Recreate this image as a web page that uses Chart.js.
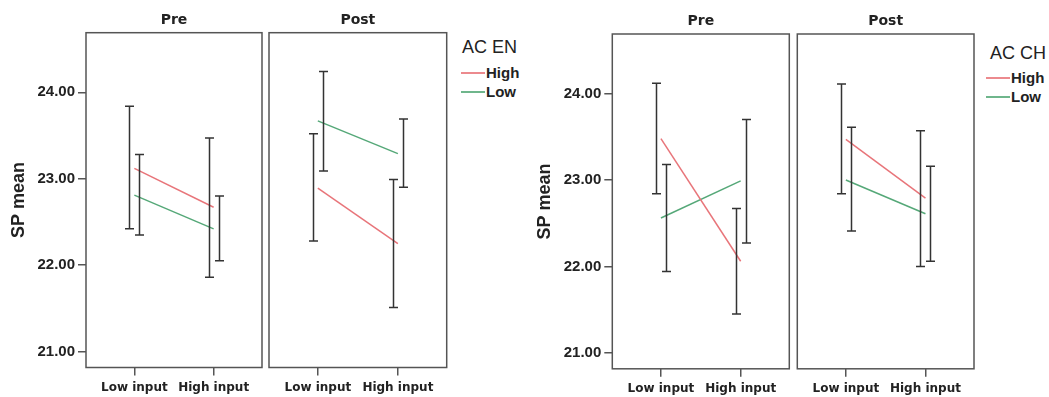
<!DOCTYPE html>
<html>
<head>
<meta charset="utf-8">
<script src="https://cdn.jsdelivr.net/npm/chart.js@4.4.1/dist/chart.umd.min.js"></script>
<style>
  html, body { margin: 0; padding: 0; background: #fff; }
  #wrap { position: relative; width: 1049px; height: 397px; overflow: hidden; }
  #wrap canvas { position: absolute; top: 0; }
  .lg { position: absolute; font-family: "Liberation Sans", Arial, sans-serif; color: #222; white-space: nowrap; }
  .lg-title { font-size: 18px; line-height: 20px; }
  .lg-item { font-size: 15px; line-height: 18px; font-weight: bold; }
  .lg-line { position: absolute; height: 2px; width: 24px; }
</style>
</head>
<body>
<div id="wrap">
  <canvas id="enPre" width="266" height="397" style="left:0px"></canvas>
  <canvas id="enPost" width="185" height="397" style="left:265px"></canvas>
  <canvas id="chPre" width="272" height="397" style="left:520px"></canvas>
  <canvas id="chPost" width="183" height="397" style="left:794px"></canvas>

  <div class="lg lg-title" style="left:462px; top:37px">AC EN</div>
  <div class="lg-line" style="left:461px; top:72px; background:#ec8a8e"></div>
  <div class="lg lg-item" style="left:486px; top:64px">High</div>
  <div class="lg-line" style="left:461px; top:91px; background:#6fb68c"></div>
  <div class="lg lg-item" style="left:486px; top:83px">Low</div>

  <div class="lg lg-title" style="left:990px; top:43px">AC CH</div>
  <div class="lg-line" style="left:986px; top:77px; background:#ec8a8e"></div>
  <div class="lg lg-item" style="left:1011px; top:69px">High</div>
  <div class="lg-line" style="left:986px; top:96px; background:#6fb68c"></div>
  <div class="lg lg-item" style="left:1011px; top:88px">Low</div>
</div>
<script>
const inputLevels = ['Low input', 'High input'];
const acGroups = ['High', 'Low'];
const yTickValues = [21, 22, 23, 24];
const yMin = 20.815;
const yMax = 24.69;

// AC EN, Pre
const enPreHighMean = [23.12, 22.67];
const enPreHighLower = [22.42, 21.86];
const enPreHighUpper = [23.84, 23.47];
const enPreLowMean = [22.81, 22.42];
const enPreLowLower = [22.35, 22.05];
const enPreLowUpper = [23.28, 22.80];

// AC EN, Post
const enPostHighMean = [22.89, 22.25];
const enPostHighLower = [22.28, 21.51];
const enPostHighUpper = [23.52, 22.99];
const enPostLowMean = [23.67, 23.29];
const enPostLowLower = [23.09, 22.90];
const enPostLowUpper = [24.24, 23.69];

// AC CH, Pre
const chPreHighMean = [23.48, 22.06];
const chPreHighLower = [22.84, 21.45];
const chPreHighUpper = [24.12, 22.67];
const chPreLowMean = [22.56, 22.99];
const chPreLowLower = [21.94, 22.27];
const chPreLowUpper = [23.18, 23.70];

// AC CH, Post
const chPostHighMean = [23.47, 22.79];
const chPostHighLower = [22.84, 22.00];
const chPostHighUpper = [24.11, 23.57];
const chPostLowMean = [23.00, 22.61];
const chPostLowLower = [22.41, 22.06];
const chPostLowUpper = [23.61, 23.16];

const RED = '#e8757a';
const GREEN = '#55a878';
const INK = '#222';
const FRAME = '#555';

// box round the plot area of each facet
const panelBox = {
  id: 'panelBox',
  afterDraw(chart) {
    const { ctx, chartArea: a } = chart;
    ctx.save();
    ctx.strokeStyle = FRAME;
    ctx.lineWidth = 1.5;
    ctx.strokeRect(a.left, a.top, a.right - a.left, a.bottom - a.top);
    ctx.restore();
  }
};

// whiskers, dodged a few px either side of the mean point
const errorBars = {
  id: 'errorBars',
  afterDatasetsDraw(chart) {
    const { ctx } = chart;
    const y = chart.scales.y;
    ctx.save();
    ctx.strokeStyle = '#333';
    ctx.lineWidth = 1.5;
    chart.data.datasets.forEach((ds, i) => {
      const meta = chart.getDatasetMeta(i);
      meta.data.forEach((pt, j) => {
        const x = Math.round(pt.x + ds.errShift) + 0.5;
        const top = y.getPixelForValue(ds.errUpper[j]);
        const bot = y.getPixelForValue(ds.errLower[j]);
        ctx.beginPath();
        ctx.moveTo(x, top); ctx.lineTo(x, bot);
        ctx.moveTo(x - 4.5, top); ctx.lineTo(x + 4.5, top);
        ctx.moveTo(x - 4.5, bot); ctx.lineTo(x + 4.5, bot);
        ctx.stroke();
      });
    });
    ctx.restore();
  }
};

function toPoints(means) {
  return means.map((v, i) => ({ x: i + 1, y: v }));
}

function series(label, color, mean, lower, upper, shift) {
  return {
    label,
    data: toPoints(mean),
    borderColor: color,
    borderWidth: 1.5,
    pointRadius: 0,
    tension: 0,
    errLower: lower,
    errUpper: upper,
    errShift: shift
  };
}

function makePanel(id, title, high, low, cfg) {
  return new Chart(document.getElementById(id), {
    type: 'line',
    data: {
      datasets: [
        series(acGroups[0], RED, high[0], high[1], high[2], -5),
        series(acGroups[1], GREEN, low[0], low[1], low[2], 5)
      ]
    },
    options: {
      responsive: false,
      animation: false,
      devicePixelRatio: 1,
      layout: { padding: { left: cfg.padL, right: cfg.padR, top: 0, bottom: 0 } },
      plugins: {
        legend: { display: false },
        tooltip: { enabled: false },
        title: {
          display: true,
          text: title,
          fullSize: false,
          color: INK,
          font: { family: 'DejaVu Sans', size: 14, weight: 'bold', lineHeight: 1.2 },
          padding: { top: cfg.titleTop, bottom: cfg.titleBottom }
        }
      },
      scales: {
        x: {
          type: 'linear',
          min: 0.39,
          max: 2.61,
          afterBuildTicks: s => { s.ticks = inputLevels.map((_, i) => ({ value: i + 1 })); },
          afterFit: s => { s.height = cfg.xHeight; },
          border: { display: false },
          grid: { drawOnChartArea: false, tickLength: 8, color: FRAME, lineWidth: 1.5 },
          ticks: {
            callback: v => inputLevels[v - 1],
            color: INK,
            padding: 5,
            maxRotation: 0,
            autoSkip: false,
            font: { family: 'DejaVu Sans', size: 12, weight: 'bold' }
          }
        },
        y: {
          display: cfg.showY,
          min: yMin,
          max: yMax,
          afterBuildTicks: s => { s.ticks = yTickValues.map(v => ({ value: v })); },
          afterFit: s => { s.width = cfg.yWidth; },
          border: { display: false },
          grid: { drawOnChartArea: false, tickLength: 8, color: FRAME, lineWidth: 1.5 },
          ticks: {
            callback: v => v.toFixed(2),
            color: INK,
            padding: 3,
            font: { family: 'Liberation Sans', size: 15, weight: 'bold' }
          },
          title: {
            display: true,
            text: 'SP mean',
            color: INK,
            font: { family: 'Liberation Sans', size: 18, weight: 'bold', lineHeight: 1.2 },
            padding: { top: cfg.yTitlePad, bottom: 0 }
          }
        }
      }
    },
    plugins: [panelBox, errorBars]
  });
}

makePanel('enPre', 'Pre',
  [enPreHighMean, enPreHighLower, enPreHighUpper],
  [enPreLowMean, enPreLowLower, enPreLowUpper],
  { showY: true, yWidth: 86, yTitlePad: 8, padL: 0, padR: 4, titleTop: 11.6, titleBottom: 4.3, xHeight: 29.5 });

makePanel('enPost', 'Post',
  [enPostHighMean, enPostHighLower, enPostHighUpper],
  [enPostLowMean, enPostLowLower, enPostLowUpper],
  { showY: false, yWidth: 0, yTitlePad: 0, padL: 4, padR: 3.3, titleTop: 11.6, titleBottom: 4.3, xHeight: 29.5 });

makePanel('chPre', 'Pre',
  [chPreHighMean, chPreHighLower, chPreHighUpper],
  [chPreLowMean, chPreLowLower, chPreLowUpper],
  { showY: true, yWidth: 92.3, yTitlePad: 14, padL: 0, padR: 2.7, titleTop: 13.3, titleBottom: 3.9, xHeight: 28.2 });

makePanel('chPost', 'Post',
  [chPostHighMean, chPostHighLower, chPostHighUpper],
  [chPostLowMean, chPostLowLower, chPostLowUpper],
  { showY: false, yWidth: 0, yTitlePad: 0, padL: 3.3, padR: 3, titleTop: 13.3, titleBottom: 3.9, xHeight: 28.2 });
</script>
</body>
</html>
